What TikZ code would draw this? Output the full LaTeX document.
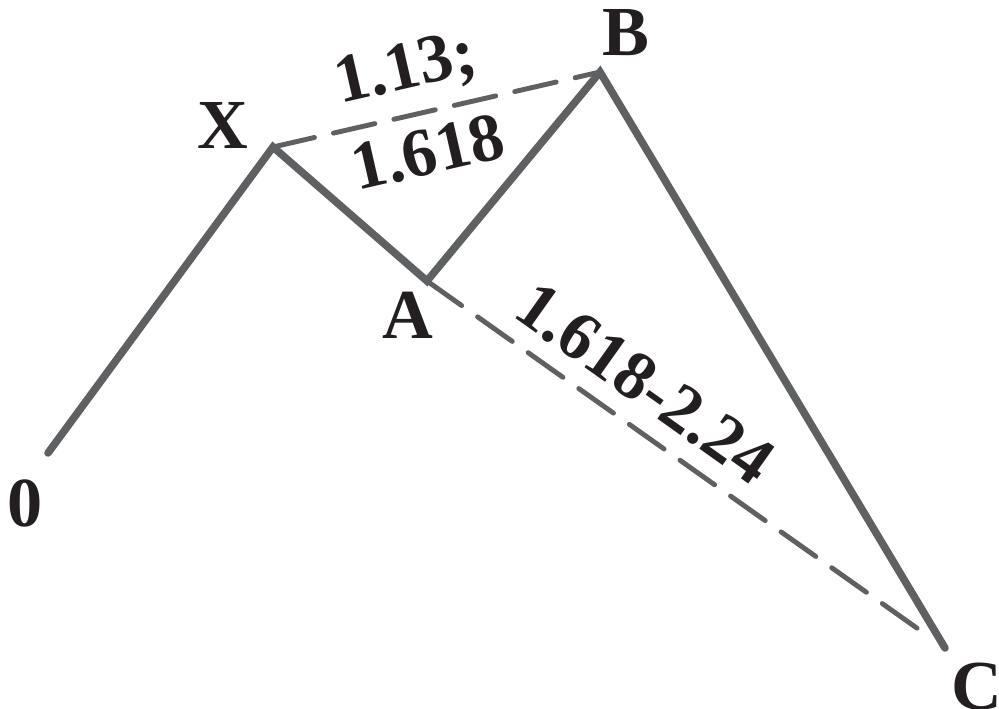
\documentclass[tikz,border=0pt]{standalone}
\usepackage{fontspec}
\setmainfont{Liberation Serif}
\definecolor{leggray}{HTML}{5F6062}
\definecolor{inkblack}{HTML}{231F20}
\usepackage{tikz}
\usetikzlibrary{positioning}

\begin{document}
\begin{tikzpicture}[
  leg/.style={draw=leggray, line width=4.3pt, line cap=round, line join=miter},
  ratio/.style={draw=leggray, line width=2.8pt, line cap=round,
    dash pattern=on 0.85cm off 0.39cm},
  pt/.style={text=inkblack, font=\fontsize{40}{42}\selectfont\bfseries, inner sep=0pt},
  val/.style={text=inkblack, font=\fontsize{39}{41}\selectfont\bfseries, inner sep=0pt}
]
  \useasboundingbox (0,0) rectangle (19.98,14.16);
  % pivots
  \coordinate (o) at (0.96,5.10);
  \coordinate (x) at (5.46,11.22);
  \coordinate (a) at (8.54,8.54);
  \coordinate (b) at (12.00,12.72);
  \coordinate (c) at (18.90,1.20);
  % ratio lines
  \draw[ratio] (x) -- (b);
  \draw[ratio, shorten >=0.36cm] (a) -- (c);
  % legs
  \draw[leg] (o) -- (x) -- (a) -- (b) -- (c);
  % point labels
  \node[pt] (lo) at (0.50,4.10) {0};
  \node[pt] (lx) at (4.46,11.66) {X};
  \node[pt] (la) at (8.16,7.86) {A};
  \node[pt] (lb) at (12.52,13.50) {B};
  \node[pt] (lc) at (19.54,0.42) {C};
  % ratios
  \node[val, rotate=12.9] (r1) at (8.12,12.74) {1.13;};
  \node[val, rotate=12.9] (r2) at (8.56,11.12) {1.618};
  \node[val, rotate=-35.4] (r3) at (12.90,6.50) {1.618-2.24};
\end{tikzpicture}
\end{document}
